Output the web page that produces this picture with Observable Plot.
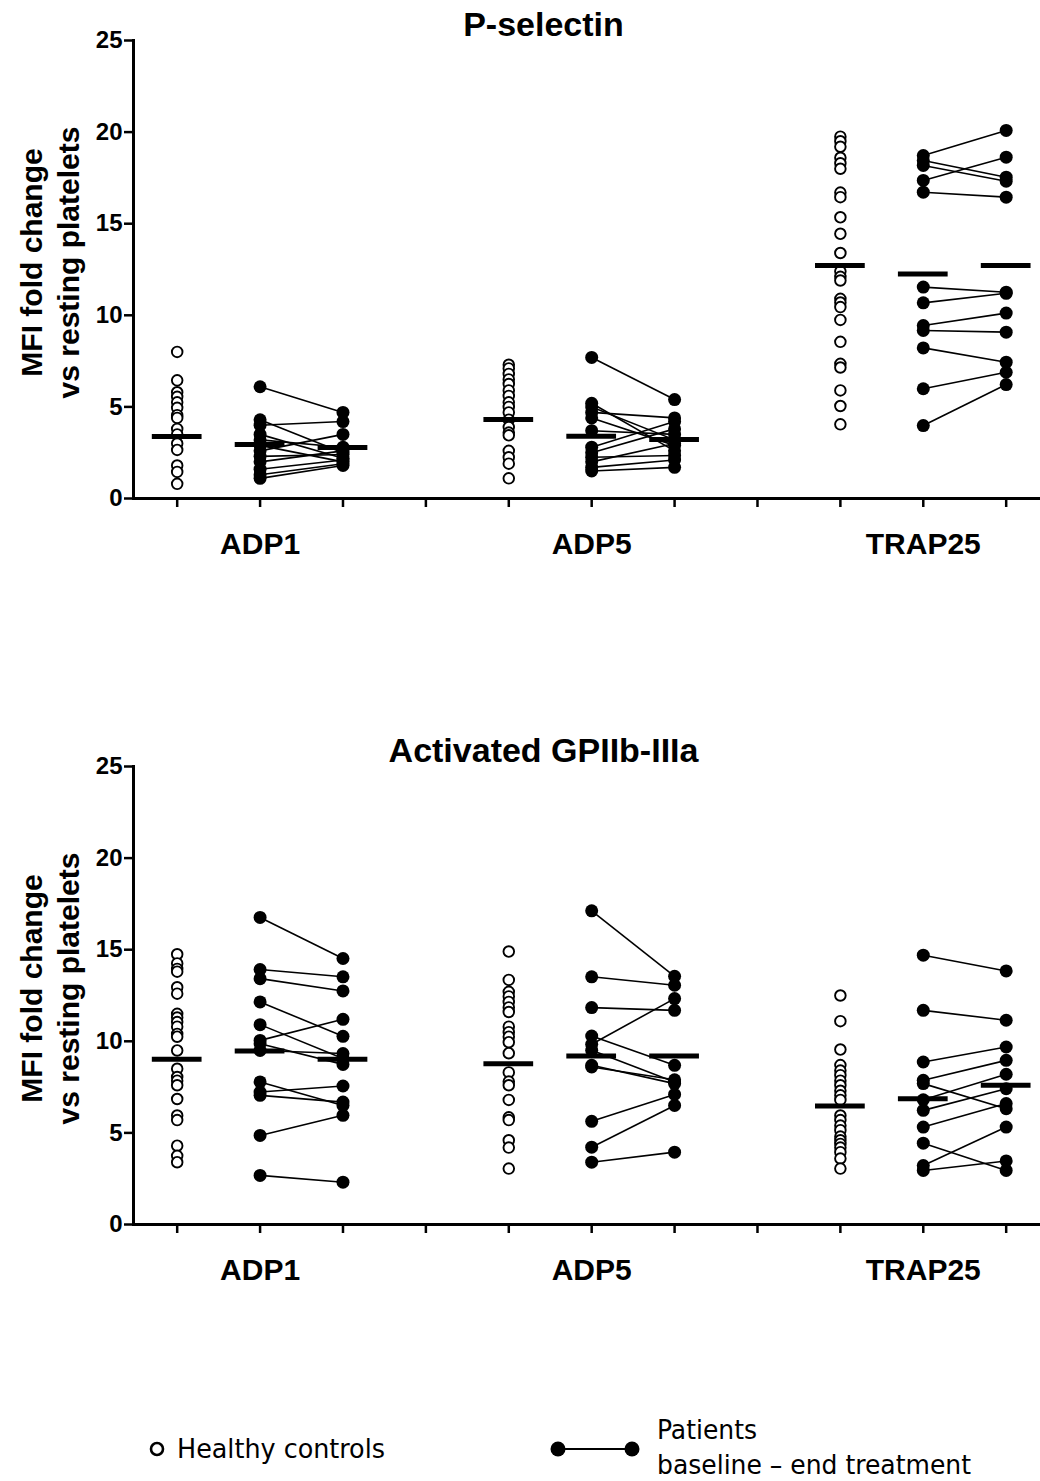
<!DOCTYPE html>
<html><head><meta charset="utf-8">
<script src="https://cdn.jsdelivr.net/npm/d3@7"></script>
<script src="https://cdn.jsdelivr.net/npm/@observablehq/plot@0.6"></script>
<style>
body{margin:0;background:#fff;}
#root{position:relative;width:1040px;height:1481px;overflow:hidden;background:#fff;}
.panel{position:absolute;left:0;}
#legend{position:absolute;left:0;top:1400px;}
</style></head><body><div id="root"></div>
<script>
// ---- categories & tick labels ----
const categories = ["ADP1", "ADP5", "TRAP25"];
const yTicks = [0, 5, 10, 15, 20, 25];
const yLabel = "MFI fold change\nvs resting platelets";
const titles = ["P-selectin", "Activated GPIIb-IIIa"];

// ---- P-selectin: healthy controls ----
const pselCtrlADP1 = [8.0, 6.45, 5.8, 5.55, 5.25, 4.95, 4.55, 4.4, 3.8, 3.5, 3.0, 2.65, 1.8, 1.45, 0.8];
const pselCtrlADP5 = [7.3, 7.1, 6.8, 6.5, 6.25, 5.9, 5.6, 5.25, 5.0, 4.7, 4.3, 3.9, 3.6, 3.45, 2.6, 2.25, 1.9, 1.1];
const pselCtrlTRAP25 = [19.75, 19.5, 19.2, 18.6, 18.3, 18.0, 16.7, 16.45, 15.35, 14.45, 13.4, 12.4, 12.1, 11.9, 10.9, 10.7, 10.45, 9.75, 8.55, 7.35, 7.15, 5.9, 5.05, 4.05];
// ---- P-selectin: patients baseline / end treatment (paired) ----
const pselBaseADP1 = [6.1, 4.3, 4.0, 3.5, 3.2, 2.9, 2.6, 2.3, 2.0, 1.6, 1.3, 1.1];
const pselEndADP1  = [4.7, 2.5, 4.2, 2.2, 2.8, 2.0, 3.5, 2.4, 2.6, 2.1, 1.9, 1.8];
const pselBaseADP5 = [7.7, 5.2, 5.0, 4.7, 4.4, 3.7, 2.8, 2.5, 2.25, 2.0, 1.7, 1.5];
const pselEndADP5  = [5.4, 2.6, 3.2, 4.4, 2.9, 3.5, 4.2, 3.8, 2.35, 3.0, 2.1, 1.7];
const pselBaseTRAP25 = [18.72, 18.45, 18.18, 17.36, 16.72, 11.54, 10.68, 9.44, 9.17, 8.22, 5.99, 3.98];
const pselEndTRAP25  = [20.09, 17.54, 17.32, 18.63, 16.45, 11.26, 11.2, 10.12, 9.08, 7.44, 6.89, 6.22];
// ---- P-selectin: group means (controls, baseline, end) ----
const pselMeanCtrl = [3.38, 4.31, 12.72];
const pselMeanBase = [2.95, 3.4, 12.26];
const pselMeanEnd  = [2.78, 3.22, 12.72];

// ---- GPIIb-IIIa: healthy controls ----
const gpCtrlADP1 = [14.75, 14.25, 13.95, 13.8, 12.95, 12.6, 11.5, 11.3, 11.05, 10.8, 10.4, 10.25, 9.5, 8.5, 8.05, 7.85, 7.6, 6.85, 5.95, 5.7, 4.3, 3.75, 3.4];
const gpCtrlADP5 = [14.9, 13.35, 12.7, 12.45, 12.15, 11.85, 11.6, 10.8, 10.5, 10.25, 9.95, 9.35, 8.3, 7.8, 7.6, 6.8, 5.85, 5.7, 4.6, 4.2, 3.05];
const gpCtrlTRAP25 = [12.5, 11.1, 9.55, 8.7, 8.4, 8.15, 7.85, 7.6, 7.3, 7.05, 6.8, 5.95, 5.7, 5.4, 5.15, 4.8, 4.6, 4.4, 4.2, 3.95, 3.6, 3.05];
// ---- GPIIb-IIIa: patients baseline / end treatment (paired) ----
const gpBaseADP1 = [16.76, 13.92, 13.42, 12.15, 10.91, 10.05, 9.87, 9.5, 7.78, 7.23, 7.05, 4.86, 2.68];
const gpEndADP1  = [14.52, 13.52, 12.75, 10.27, 9.06, 11.2, 8.74, 9.33, 6.5, 7.56, 6.68, 5.96, 2.31];
const gpBaseADP5 = [17.12, 13.52, 11.84, 10.29, 9.84, 9.51, 8.69, 8.6, 5.63, 4.22, 3.4];
const gpEndADP5  = [13.55, 13.06, 11.69, 8.69, 12.33, 7.78, 7.69, 7.9, 7.1, 6.5, 3.95];
const gpBaseTRAP25 = [14.7, 11.69, 8.87, 7.87, 7.69, 6.81, 6.23, 5.32, 4.44, 3.22, 2.95];
const gpEndTRAP25  = [13.84, 11.15, 9.69, 8.96, 6.32, 8.2, 7.41, 6.6, 2.95, 5.32, 3.47];
// ---- GPIIb-IIIa: group means ----
const gpMeanCtrl = [9.02, 8.78, 6.47];
const gpMeanBase = [9.47, 9.2, 6.87];
const gpMeanEnd  = [9.02, 9.2, 7.6];

const FONT = "'Liberation Sans', Arial, Helvetica, sans-serif";

function panel(title, ctrls, bases, ends, mCtrl, mBase, mEnd) {
  const ctrl = [], links = [], pts = [], bars = [];
  categories.forEach((cat, i) => {
    const c = i * 4;
    ctrls[i].forEach(v => ctrl.push({x: c, y: v}));
    bases[i].forEach((v, j) => {
      links.push({x1: c + 1, x2: c + 2, y1: v, y2: ends[i][j]});
      pts.push({x: c + 1, y: v});
      pts.push({x: c + 2, y: ends[i][j]});
    });
    bars.push({x: c, y: mCtrl[i]}, {x: c + 1, y: mBase[i]}, {x: c + 2, y: mEnd[i]});
  });
  const xTicks = d3.range(0, categories.length * 4 - 1);
  return Plot.plot({
    width: 1040, height: 600,
    marginLeft: 133, marginRight: 0, marginTop: 40, marginBottom: 102,
    x: {domain: [-0.527, 10.414], axis: null},
    y: {domain: [0, 25], axis: null},
    style: {fontFamily: FONT, fontWeight: "bold", color: "#000", background: "#fff", overflow: "visible"},
    marks: [
      Plot.axisY({ticks: yTicks, tickSize: 9, tickPadding: 3, tickFormat: () => "", strokeWidth: 2.5, label: null}),
      Plot.text(yTicks, {y: d => d, text: d => String(d), frameAnchor: "left", dx: -11, textAnchor: "end", lineAnchor: "middle", fontSize: 24, fontWeight: "bold", fill: "#000"}),
      Plot.axisX({ticks: xTicks, tickSize: 9, tickPadding: 25, fontSize: 30, fontWeight: "bold", strokeWidth: 2.5, label: null,
        tickFormat: d => (d % 4 === 1 ? categories[(d - 1) / 4] : "")}),
      Plot.frame({anchor: "left", strokeWidth: 3}),
      Plot.frame({anchor: "bottom", strokeWidth: 3}),
      Plot.link(links, {x1: "x1", x2: "x2", y1: "y1", y2: "y2", stroke: "#000", strokeWidth: 1.6}),
      Plot.dot(pts, {x: "x", y: "y", r: 6.5, fill: "#000", stroke: "none"}),
      Plot.dot(ctrl, {x: "x", y: "y", r: 5.3, fill: "#fff", stroke: "#000", strokeWidth: 1.9}),
      Plot.ruleY(bars, {y: "y", x1: d => d.x - 0.3, x2: d => d.x + 0.3, stroke: "#000", strokeWidth: 5}),
      Plot.text([title], {frameAnchor: "top", dx: -43.5, dy: -15, lineAnchor: "middle", fontSize: 34, fontWeight: "bold", fill: "#000"}),
      Plot.text([yLabel], {frameAnchor: "left", rotate: -90, dx: -84.5, dy: -7, textAnchor: "middle", lineAnchor: "middle", lineHeight: 1.23, fontSize: 30, fontWeight: "bold", fill: "#000"})
    ]
  });
}

const root = document.getElementById("root");
const p1 = panel(titles[0],
  [pselCtrlADP1, pselCtrlADP5, pselCtrlTRAP25],
  [pselBaseADP1, pselBaseADP5, pselBaseTRAP25],
  [pselEndADP1, pselEndADP5, pselEndTRAP25],
  pselMeanCtrl, pselMeanBase, pselMeanEnd);
const p2 = panel(titles[1],
  [gpCtrlADP1, gpCtrlADP5, gpCtrlTRAP25],
  [gpBaseADP1, gpBaseADP5, gpBaseTRAP25],
  [gpEndADP1, gpEndADP5, gpEndTRAP25],
  gpMeanCtrl, gpMeanBase, gpMeanEnd);
const w1 = document.createElement("div"); w1.className = "panel"; w1.style.top = "0px"; w1.appendChild(p1);
const w2 = document.createElement("div"); w2.className = "panel"; w2.style.top = "726px"; w2.appendChild(p2);
root.appendChild(w1); root.appendChild(w2);

// ---- legend ----
const LF = "'Liberation Sans Narrow', 'DejaVu Sans Condensed', 'Liberation Sans', sans-serif";
const lg = document.createElement("div");
lg.id = "legend";
lg.innerHTML = `<svg width="1040" height="81" xmlns="http://www.w3.org/2000/svg" font-family="${LF}" font-size="26">
  <circle cx="157" cy="49" r="6" fill="#fff" stroke="#000" stroke-width="2.6"/>
  <text x="177" y="58" textLength="208" lengthAdjust="spacingAndGlyphs">Healthy controls</text>
  <line x1="558" y1="49" x2="632" y2="49" stroke="#000" stroke-width="2"/>
  <circle cx="558" cy="49" r="7.5" fill="#000"/>
  <circle cx="632" cy="49" r="7.5" fill="#000"/>
  <text x="657" y="39" textLength="100" lengthAdjust="spacingAndGlyphs">Patients</text>
  <text x="657" y="74" textLength="314" lengthAdjust="spacingAndGlyphs">baseline – end treatment</text>
</svg>`;
root.appendChild(lg);
</script></body></html>
